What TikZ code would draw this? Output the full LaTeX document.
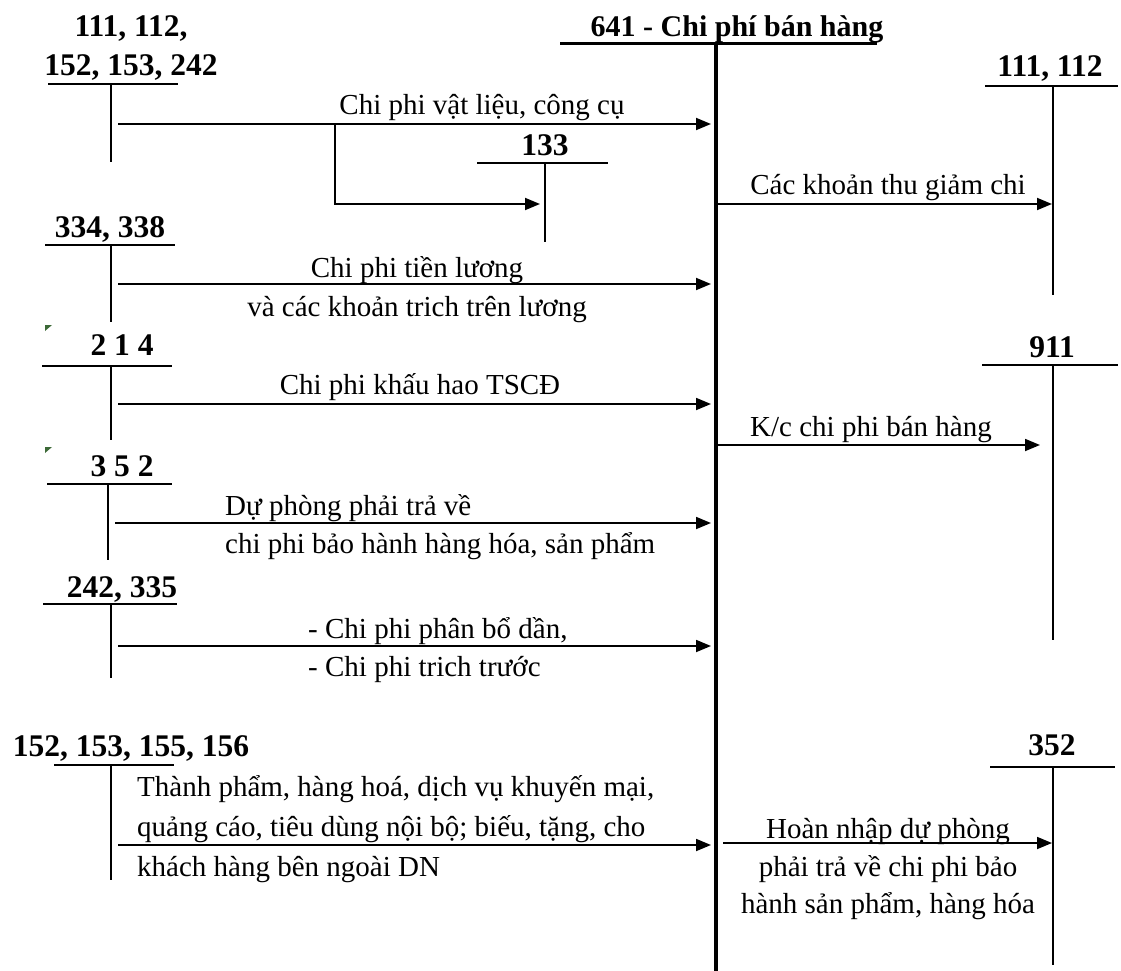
\documentclass[tikz,border=0pt]{standalone}
\usepackage{fontspec}
\setmainfont{Liberation Serif}
\usepackage{tikz}
\usetikzlibrary{arrows.meta,positioning,calc}
\definecolor{markgreen}{RGB}{60,105,55}
\tikzset{
  acct/.style={font=\fontsize{31.5}{41}\selectfont\bfseries, inner sep=0pt, anchor=base},
  note/.style={font=\fontsize{29}{40}\selectfont, inner sep=0pt, anchor=base},
  tline/.style={line width=1.8pt, draw=black},
  mainline/.style={line width=4.5pt, draw=black},
  arrow/.style={-{Triangle[length=15pt,width=12pt]}, line width=1.8pt, draw=black}
}
\begin{document}
\begin{tikzpicture}[x=1pt, y=-1pt]
\useasboundingbox (0,0) rectangle (1121,971);
\node[acct, font=\fontsize{30}{41}\selectfont\bfseries] (m641) at (737,37) {641 - Chi phí bán hàng};
\draw[tline, line width=3pt] (560,44) -- (877,44);
\coordinate (mtop) at (716,44);
\coordinate (mbot) at (716,971);
\draw[mainline] (mtop) -- (mbot);
\coordinate (tip) at (711,0);

\node[acct] (a111) at (131,37) {111, 112,};
\node[acct] (a152) at (131,76) {152, 153, 242};
\draw[tline] (48,84) -- (178,84);
\coordinate (a111t) at (111,84);
\draw[tline] (a111t) -- ++(0,78);
\coordinate (s1) at (118,124);
\draw[arrow] (s1) -- (s1 -| tip);
\node[note] (t1) at (482,114) {Chi phi vật liệu, công cụ};
\node[acct] (a133) at (545,155) {133};
\draw[tline] (477,163) -- (608,163);
\coordinate (a133t) at (545,163);
\draw[tline] (a133t) -- ++(0,79);
\coordinate (b1) at (335,124);
\coordinate (a133in) at (540,204);
\draw[arrow] (b1) |- (a133in);

\node[acct] (a334) at (110,237) {334, 338};
\draw[tline] (45,245) -- (175,245);
\coordinate (a334t) at (111,245);
\draw[tline] (a334t) -- ++(0,77);
\coordinate (s2) at (118,284);
\draw[arrow] (s2) -- (s2 -| tip);
\node[note] (t2a) at (417,277) {Chi phi tiền lương};
\node[note] (t2b) at (417,316) {và các khoản trich trên lương};

\fill[markgreen] (45,325) -- ++(7,0) -- ++(-7,6) -- cycle;
\node[acct] (a214) at (122,355) {2 1 4};
\draw[tline] (42,366) -- (172,366);
\coordinate (a214t) at (111,366);
\draw[tline] (a214t) -- ++(0,74);
\coordinate (s3) at (118,404);
\draw[arrow] (s3) -- (s3 -| tip);
\node[note] (t3) at (420,394) {Chi phi khấu hao TSCĐ};

\fill[markgreen] (45,447) -- ++(7,0) -- ++(-7,6) -- cycle;
\node[acct] (a352) at (122,476) {3 5 2};
\draw[tline] (47,484) -- (172,484);
\coordinate (a352t) at (108,484);
\draw[tline] (a352t) -- ++(0,76);
\coordinate (s4) at (115,523);
\draw[arrow] (s4) -- (s4 -| tip);
\node[note, anchor=base west] (t4a) at (225,515) {Dự phòng phải trả về};
\node[note, anchor=base west] (t4b) at (225,553) {chi phi bảo hành hàng hóa, sản phẩm};

\node[acct] (a242) at (122,597) {242, 335};
\draw[tline] (43,604) -- (177,604);
\coordinate (a242t) at (111,604);
\draw[tline] (a242t) -- ++(0,74);
\coordinate (s5) at (118,646);
\draw[arrow] (s5) -- (s5 -| tip);
\node[note, anchor=base west] (t5a) at (308,638) {- Chi phi phân bổ dần,};
\node[note, anchor=base west] (t5b) at (308,676) {- Chi phi trich trước};

\node[acct] (a155) at (131,756) {152, 153, 155, 156};
\draw[tline] (54,765) -- (174,765);
\coordinate (a155t) at (111,765);
\draw[tline] (a155t) -- ++(0,115);
\coordinate (s6) at (118,845);
\draw[arrow] (s6) -- (s6 -| tip);
\node[note, anchor=base west] (t6a) at (137,796) {Thành phẩm, hàng hoá, dịch vụ khuyến mại,};
\node[note, anchor=base west] (t6b) at (137,836) {quảng cáo, tiêu dùng nội bộ; biếu, tặng, cho};
\node[note, anchor=base west] (t6c) at (137,876) {khách hàng bên ngoài DN};

\node[acct] (b111) at (1050,77) {111, 112};
\draw[tline] (985,86) -- (1118,86);
\coordinate (b111t) at (1053,86);
\draw[tline] (b111t) -- ++(0,209);
\coordinate (r1) at (716,204);
\coordinate (b111in) at (1052,204);
\draw[arrow] (r1) -- (b111in);
\node[note] (u1) at (888,194) {Các khoản thu giảm chi};

\node[acct] (b911) at (1052,357) {911};
\draw[tline] (982,365) -- (1118,365);
\coordinate (b911t) at (1053,365);
\draw[tline] (b911t) -- ++(0,275);
\coordinate (r2) at (716,445);
\coordinate (b911in) at (1040,445);
\draw[arrow] (r2) -- (b911in);
\node[note, anchor=base west] (u2) at (750,436) {K/c chi phi bán hàng};

\node[acct] (b352) at (1052,755) {352};
\draw[tline] (990,767) -- (1115,767);
\coordinate (b352t) at (1053,767);
\draw[tline] (b352t) -- ++(0,198);
\coordinate (r3) at (723,843);
\coordinate (b352in) at (1052,843);
\draw[arrow] (r3) -- (b352in);
\node[note] (u3a) at (888,838) {Hoàn nhập dự phòng};
\node[note] (u3b) at (888,876) {phải trả về chi phi bảo};
\node[note] (u3c) at (888,913) {hành sản phẩm, hàng hóa};
\end{tikzpicture}
\end{document}
